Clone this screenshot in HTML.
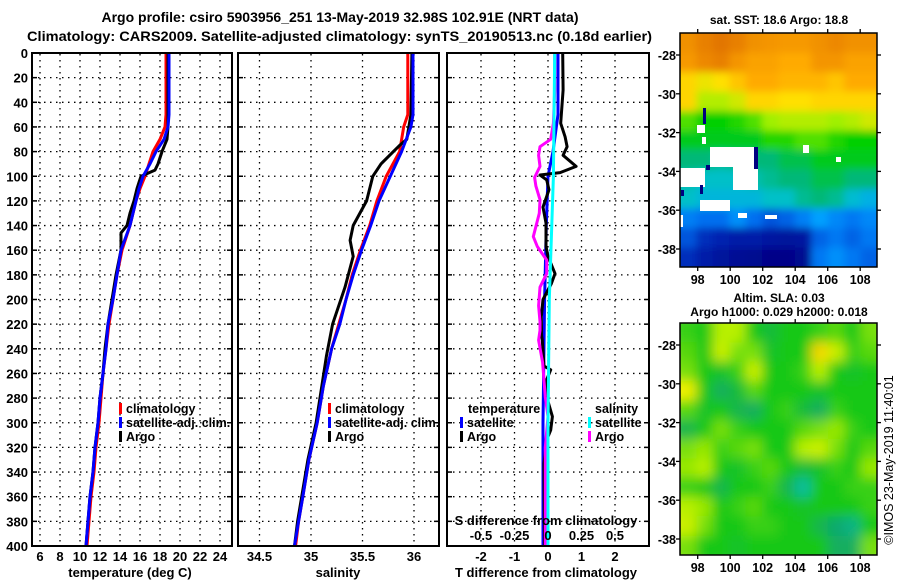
<!DOCTYPE html>
<html><head><meta charset="utf-8"><style>
html,body{margin:0;padding:0;background:#fff;}
svg{display:block;font-family:"Liberation Sans",Arial,sans-serif;font-weight:bold;}
</style></head><body>
<svg id="chart" width="900" height="580" viewBox="0 0 900 580" xmlns="http://www.w3.org/2000/svg">
<defs>
<clipPath id="c1"><rect x="33" y="54" width="198" height="491"/></clipPath>
<clipPath id="c2"><rect x="239" y="54" width="199" height="491"/></clipPath>
<clipPath id="c3"><rect x="448" y="54" width="200" height="491"/></clipPath>
<clipPath id="cm1"><rect x="680" y="33" width="197" height="234"/></clipPath>
<clipPath id="cm2"><rect x="680" y="323" width="197" height="232"/></clipPath>
<filter id="blur2" x="-5%" y="-5%" width="110%" height="110%"><feGaussianBlur stdDeviation="6"/></filter>
<filter id="blur1" x="-5%" y="-5%" width="110%" height="110%"><feGaussianBlur stdDeviation="4"/></filter>
</defs>
<text x="340" y="22" font-size="14" text-anchor="middle">Argo profile: csiro 5903956_251 13-May-2019 32.98S 102.91E (NRT data)</text>
<text x="27" y="41" font-size="14" textLength="625" lengthAdjust="spacingAndGlyphs">Climatology: CARS2009. Satellite-adjusted climatology: synTS_20190513.nc (0.18d earlier)</text>
<text x="779" y="24" font-size="12" text-anchor="middle">sat. SST: 18.6 Argo: 18.8</text>
<text x="779" y="302" font-size="12" text-anchor="middle">Altim. SLA: 0.03</text>
<text x="779" y="316" font-size="12" text-anchor="middle">Argo h1000: 0.029 h2000: 0.018</text>
<text transform="translate(893,460) rotate(-90)" font-size="12.5" font-weight="normal" text-anchor="middle">©IMOS 23-May-2019 11:40:01</text>
<g id="g"></g>
</svg>
<script>
// ---- Panel 1: temperature ----
const depthT = [0,50,60,70,80,90,100,110,120,140,160,180,200,220,240,260,280,300,320,340,360,380,400];
const climT = [18.6,18.6,18.5,18.0,17.3,16.9,16.5,16.0,15.6,15.0,14.2,13.7,13.3,12.9,12.6,12.3,12.1,11.9,11.6,11.4,11.1,10.9,10.7];
const satT = [18.9,18.9,18.8,18.4,17.6,17.0,16.3,15.9,15.6,15.0,14.1,13.7,13.3,12.8,12.6,12.3,12.0,11.8,11.5,11.3,11.0,10.8,10.6];
const argoDepthT = [0,50,60,70,80,90,95,100,105,110,120,130,140,146,150,160,180,200,220,240,260,280,300,320,340,360,380,400];
const argoT = [18.8,18.8,18.8,18.7,18.2,17.8,17.5,16.1,15.9,15.7,15.4,15.0,14.7,14.1,14.1,14.1,13.6,13.2,12.8,12.5,12.3,12.0,11.8,11.5,11.3,11.0,10.8,10.6];
const tTicks = [6,8,10,12,14,16,18,20,22,24];
// ---- Panel 2: salinity ----
const depthS = [0,50,60,80,100,120,140,160,180,200,220,240,270,300,330,360,380,400];
const climS = [35.94,35.94,35.9,35.86,35.73,35.64,35.57,35.48,35.40,35.34,35.27,35.2,35.12,35.06,34.98,34.92,34.88,34.85];
const satS = [35.99,35.99,35.97,35.88,35.77,35.66,35.58,35.49,35.41,35.34,35.28,35.2,35.12,35.06,34.98,34.92,34.88,34.84];
const argoDepthS = [0,50,70,75,80,90,100,120,140,152,165,190,220,246,273,300,330,360,380,400];
const argoS = [35.98,35.97,35.93,35.86,35.80,35.68,35.60,35.54,35.41,35.38,35.41,35.33,35.21,35.15,35.10,35.05,34.97,34.91,34.87,34.84];
const sTicks = [34.5,35,35.5,36];
// ---- Panel 3: differences ----
const dTsatDepth = [0,50,80,100,140,200,300,400];
const dTsat = [0.3,0.3,0.15,0.0,-0.05,-0.1,-0.15,-0.15];
const dTargoDepth = [0,30,57,68,76,83,92,97,99,103,111,125,138,157,165,179,187,200,214,229,233,254,257,265,279,295,306,314,333,400];
const dTargo = [0.44,0.45,0.38,0.51,0.57,0.45,0.84,0.36,-0.24,-0.04,0.03,-0.15,-0.06,-0.06,0.0,0.21,0.10,-0.15,-0.2,-0.19,-0.17,-0.12,0.08,-0.04,-0.04,0.13,0.08,-0.04,-0.12,-0.1];
const dSsatDepth = [0,100,200,300,400];
const dSsat = [0.05,0.04,0.01,0.0,0.0];
const dSargoDepth = [0,30,57,70,76,83,92,101,108,119,130,149,157,168,179,190,205,218,225,233,251,279,295,320,400];
const dSargo = [0.05,0.05,0.04,0.02,-0.06,-0.07,-0.06,-0.1,-0.09,-0.06,-0.065,-0.11,-0.08,-0.01,-0.01,-0.06,-0.07,-0.06,-0.06,-0.07,-0.04,-0.02,0,-0.02,-0.02];
const dTTicks = [-2,-1,0,1,2];
const dSTicks = [-0.5,-0.25,0,0.25,0.5];
const depthTicks = [0,20,40,60,80,100,120,140,160,180,200,220,240,260,280,300,320,340,360,380,400];
// ---- Maps (coarse grids, 1° cells, lon 97..109, lat -27..-39) ----
const sstRows = [
[0.86,0.9,0.92,0.9,0.86,0.85,0.84,0.84,0.86,0.88,0.86,0.86],
[0.84,0.88,0.9,0.85,0.82,0.82,0.8,0.8,0.85,0.85,0.82,0.82],
[0.72,0.68,0.7,0.75,0.8,0.8,0.78,0.78,0.78,0.75,0.8,0.8],
[0.72,0.62,0.62,0.65,0.72,0.72,0.7,0.7,0.72,0.72,0.72,0.72],
[0.55,0.5,0.5,0.52,0.55,0.6,0.62,0.62,0.62,0.6,0.62,0.65],
[0.48,0.48,0.48,0.48,0.48,0.52,0.52,0.55,0.55,0.52,0.5,0.5],
[0.42,0.42,0.4,0.42,0.42,0.42,0.45,0.45,0.48,0.48,0.48,0.48],
[0.38,0.36,0.36,0.36,0.38,0.4,0.42,0.42,0.45,0.45,0.42,0.42],
[0.36,0.34,0.34,0.34,0.34,0.36,0.36,0.4,0.42,0.4,0.35,0.33],
[0.26,0.24,0.24,0.28,0.24,0.2,0.22,0.26,0.3,0.27,0.25,0.27],
[0.2,0.14,0.12,0.1,0.1,0.08,0.07,0.08,0.22,0.25,0.22,0.25],
[0.14,0.1,0.07,0.05,0.04,0.02,0.02,0.04,0.25,0.28,0.25,0.22]];
const slaRows = [
[0.1,0,0.5,0.5,0,-0.2,0,0,0.1,0.2,0,0.3],
[0.2,0,0.6,0.3,0.3,-0.1,0,0,0.9,0.6,0.1,0.2],
[0.3,0,-0.1,0.1,0.6,0,0,0.1,0.5,0,-0.1,0],
[0.8,0,-0.4,-0.2,0.2,0,0,0,-0.1,0,0,0],
[0.2,-0.1,0,-0.3,-0.4,0,0.1,-0.2,-0.4,0.1,0,0],
[-0.3,0,0.3,0.1,0,0,0,0.2,0.3,0.4,0.1,0],
[0.3,0.4,0.1,0.2,0.3,0,0,0.5,0.6,0.3,0,0.2],
[0.4,0.5,0,-0.1,0.1,0.2,0,-0.2,-0.1,0.1,0,0.4],
[0.1,0,-0.3,0,0,0.1,-0.3,-0.7,0,0,0.1,0.1],
[0.5,0.4,0,0.1,0.2,0,0,-0.1,0,0,0,0.1],
[0.6,0.3,0,0,0.1,0.1,0,0,-0.3,-0.5,-0.6,0],
[0.3,0,0,-0.1,0,0,0,0,0,-0.4,-0.4,0.3]];
const lonTicks = [98,100,102,104,106,108];
const latTicks = [-28,-30,-32,-34,-36,-38];

const NS = 'http://www.w3.org/2000/svg';
const root = document.getElementById('g');
function mk(tag, attrs, parent) {
  const e = document.createElementNS(NS, tag);
  for (const k in attrs) e.setAttribute(k, attrs[k]);
  (parent || root).appendChild(e);
  return e;
}
function txt(s, x, y, size, anchor, parent) {
  const t = mk('text', {x: x, y: y, 'font-size': size, 'text-anchor': anchor || 'middle'}, parent);
  t.textContent = s;
  return t;
}
const yD = d => 53 + d * 1.2325;
const xT = t => 40 + (t - 6) * 10;
const xS = s => 311 + (s - 35) * 103;
const xDT = v => 548 + v * 33.5;
const xDS = v => 548 + v * 134;

const panels = [{x0:32,x1:232,clip:'c1'},{x0:238,x1:439,clip:'c2'},{x0:447,x1:649,clip:'c3'}];
const gridX = [tTicks.map(xT), sTicks.map(xS), dTTicks.map(xDT)];
panels.forEach((p, i) => {
  const grid = mk('g', {stroke:'#000','stroke-width':1.3,'stroke-dasharray':'1.5 4.5'});
  
  
  depthTicks.slice(1, -1).forEach(d => mk('line', {x1:p.x0, x2:p.x1, y1:yD(d), y2:yD(d)}, grid));
  gridX[i].forEach(x => mk('line', {x1:x, x2:x, y1:54, y2:545}, grid));
  const ticks = mk('g', {stroke:'#000','stroke-width':1.5});
  depthTicks.forEach(d => { mk('line', {x1:p.x0, x2:p.x0+5, y1:yD(d), y2:yD(d)}, ticks); mk('line', {x1:p.x1-5, x2:p.x1, y1:yD(d), y2:yD(d)}, ticks); });
});

function line(xs, ds, xf, color, w, name, clip) {
  const pts = xs.map((v, i) => xf(v).toFixed(1) + ',' + yD(ds[i]).toFixed(1)).join(' ');
  const e = mk('polyline', {points: pts, fill:'none', stroke:color, 'stroke-width':w, 'stroke-linejoin':'round', 'clip-path':'url(#' + clip + ')'});
  
  
}
line(climT, depthT, xT, '#ff0000', 3, 'temperature-climatology-line', 'c1');
line(argoT, argoDepthT, xT, '#000000', 3, 'temperature-argo-line', 'c1');
line(satT, depthT, xT, '#0000ff', 3, 'temperature-satellite-line', 'c1');
line(climS, depthS, xS, '#ff0000', 3, 'salinity-climatology-line', 'c2');
line(argoS, argoDepthS, xS, '#000000', 3, 'salinity-argo-line', 'c2');
line(satS, depthS, xS, '#0000ff', 3, 'salinity-satellite-line', 'c2');
line(dTsat, dTsatDepth, xDT, '#0000ff', 3, 'tdiff-satellite-line', 'c3');
line(dTargo, dTargoDepth, xDT, '#000000', 3, 'tdiff-argo-line', 'c3');
line(dSargo, dSargoDepth, xDS, '#ff00ff', 3, 'sdiff-argo-line', 'c3');
line(dSsat, dSsatDepth, xDS, '#00ffff', 3, 'sdiff-satellite-line', 'c3');

panels.forEach((p, i) => {
  const f = mk('rect', {x:p.x0, y:53, width:p.x1-p.x0, height:493, fill:'none', stroke:'#000', 'stroke-width':2});
  
  
});
depthTicks.forEach(d => {
  const t = txt(String(d), 28, yD(d) + 5, 13, 'end');
  
  
});
tTicks.forEach(v => { const t = txt(String(v), xT(v), 561, 13);   });
sTicks.forEach(v => { const t = txt(String(v), xS(v), 561, 13);   });
dTTicks.forEach(v => { const t = txt(String(v), xDT(v), 561, 13);   });
dSTicks.forEach(v => { const t = txt(String(v), xDS(v), 540, 13);   });
let at = txt('temperature (deg C)', 130, 577, 13);  
at = txt('salinity', 338, 577, 13);  
at = txt('T difference from climatology', 546, 577, 13);  
at = txt('S difference from climatology', 546, 525, 13);  

function legend(x, y, color, label, name) {
  const g = mk('g', {});
  
  
  mk('rect', {x:x, y:y-10, width:3, height:11, fill:color}, g);
  txt(label, x + 7, y, 12.5, 'start', g);
}
legend(119, 413, '#ff0000', 'climatology', 'legend-climatology');
legend(119, 427, '#0000ff', 'satellite-adj. clim.', 'legend-satellite-adj');
legend(119, 441, '#000000', 'Argo', 'legend-argo');
legend(328, 413, '#ff0000', 'climatology', 'legend-climatology-salinity');
legend(328, 427, '#0000ff', 'satellite-adj. clim.', 'legend-satellite-adj-salinity');
legend(328, 441, '#000000', 'Argo', 'legend-argo-salinity');
let lt = txt('temperature', 468, 413, 12.5, 'start');  
legend(460, 427, '#0000ff', 'satellite', 'legend-t-satellite');
legend(460, 441, '#000000', 'Argo', 'legend-t-argo');
lt = txt('salinity', 595, 413, 12.5, 'start');  
legend(588, 427, '#00ffff', 'satellite', 'legend-s-satellite');
legend(588, 441, '#ff00ff', 'Argo', 'legend-s-argo');

// ---- maps ----
function lerpColor(stops, v) {
  if (v <= stops[0][0]) return stops[0][1];
  for (let i = 1; i < stops.length; i++) {
    if (v <= stops[i][0]) {
      const a = stops[i-1], b = stops[i], t = (v - a[0]) / (b[0] - a[0]);
      return [0,1,2].map(k => Math.round(a[1][k] + (b[1][k] - a[1][k]) * t));
    }
  }
  return stops[stops.length-1][1];
}
const sstStops = [[0,[0,0,128]],[0.12,[0,32,176]],[0.24,[0,112,240]],[0.3,[0,160,255]],[0.36,[0,192,200]],[0.42,[0,184,120]],[0.5,[0,208,0]],[0.6,[160,240,0]],[0.7,[255,224,0]],[0.8,[255,170,0]],[0.9,[232,128,0]],[1,[200,80,0]]];
const slaStops = [[-1,[0,224,224]],[-0.5,[16,168,112]],[0,[24,200,24]],[0.5,[184,240,0]],[0.8,[240,240,0]],[1,[255,192,0]]];
const lonX = lon => 697.7 + (lon - 98) * 16.25;
function drawMap(rows, stops, y0, h, clip, blurId, name) {
  const g = mk('g', {'clip-path':'url(#' + clip + ')'});
  
  
  const inner = mk('g', {filter:'url(#' + blurId + ')'}, g);
  const ch = h / rows.length, cw = 197 / rows[0].length;
  rows.forEach((r, j) => r.forEach((v, i) => {
    const c = lerpColor(stops, v);
    const x = i === 0 ? 680 - 10 : 680 + i*cw;
    const y = j === 0 ? y0 - 10 : y0 + j*ch;
    const w = cw + (i === 0 || i === r.length-1 ? 10 : 0) + 0.5;
    const hh = ch + (j === 0 || j === rows.length-1 ? 10 : 0) + 0.5;
    mk('rect', {x:x.toFixed(1), y:y.toFixed(1), width:w.toFixed(1), height:hh.toFixed(1), fill:'rgb(' + c.join(',') + ')'}, inner);
  }));
  return g;
}
const m1 = drawMap(sstRows, sstStops, 33, 234, 'cm1', 'blur1', 'sst-map');
[[710,147,44,20],[680,168,25,19],[733,165,25,25],[700,200,30,11],[697,125,8,8],[702,137,4,7],[803,145,6,8],[836,157,5,5],[738,213,9,5],[765,215,12,4],[680,215,3,12]].forEach(r => {
  const e = mk('rect', {x:r[0], y:r[1], width:r[2], height:r[3], fill:'#fff'}, m1);
  
  
});
[[703,108,3,16],[754,147,4,22],[706,165,4,5],[700,185,3,9],[681,190,3,6]].forEach(r => {
  const e = mk('rect', {x:r[0], y:r[1], width:r[2], height:r[3], fill:'#000080'}, m1);
  
  
});
drawMap(slaRows, slaStops, 323, 232, 'cm2', 'blur2', 'sla-map');

[[33,267,55,19.4],[323,555,345,19.4]].forEach((m, mi) => {
  const f = mk('rect', {x:680, y:m[0], width:197, height:m[1]-m[0], fill:'none', stroke:'#000', 'stroke-width':1.5});
  
  
  const tk = mk('g', {stroke:'#000','stroke-width':1.3});
  lonTicks.forEach(lon => {
    mk('line', {x1:lonX(lon), x2:lonX(lon), y1:m[1], y2:m[1]+4}, tk);
    mk('line', {x1:lonX(lon), x2:lonX(lon), y1:m[0], y2:m[0]-4}, tk);
    const t = txt(String(lon), lonX(lon), m[1] + 17, 12.5);
    
    
  });
  latTicks.forEach(lat => {
    const y = m[2] + (-28 - lat) * m[3];
    mk('line', {x1:676, x2:680, y1:y, y2:y}, tk);
    mk('line', {x1:877, x2:881, y1:y, y2:y}, tk);
    const t = txt(String(lat), 676, y + 5, 12.5, 'end');
    
    
  });
});
</script>
</body></html>
